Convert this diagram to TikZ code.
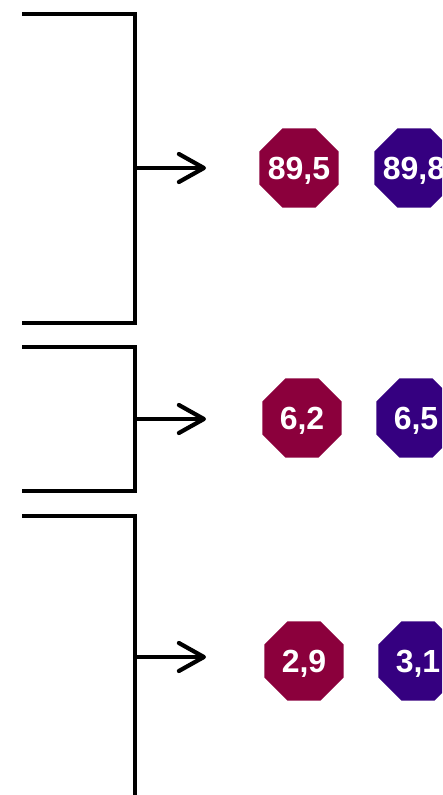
\documentclass[tikz,border=0pt]{standalone}
\usepackage{fontspec}
\setmainfont{Liberation Sans}
\usetikzlibrary{arrows.meta,shapes.geometric}
\definecolor{octred}{RGB}{139,0,60}
\definecolor{octpurple}{RGB}{53,0,128}
\tikzset{
  bracket/.style={line width=3.4pt, line join=miter},
  arrowline/.style={line width=4.2pt, -{Straight Barb[length=25pt,width=28pt,round]}},
  octa/.style={regular polygon, regular polygon sides=8, minimum size=86pt, inner sep=0pt},
  octtext/.style={inner sep=0pt, text depth=0pt, text height=22.5pt, text=white, font=\fontsize{32}{38}\selectfont\bfseries},
  redoct/.style={octa, fill=octred},
  purpoct/.style={octa, fill=octpurple}
}
\begin{document}
\begin{tikzpicture}[x=1pt,y=-1pt]
\useasboundingbox (0,0) rectangle (442,795);
\clip (0,0) rectangle (442,795);
% bracket 1
\coordinate (a1) at (22,14);
\coordinate (a2) at (135,14);
\coordinate (a3) at (135,323);
\coordinate (a4) at (22,323);
\coordinate (am) at (135,168);
\coordinate (ae) at (206,168);
\draw[bracket] (a1) -- (a2) -- (a3) -- (a4);
\draw[arrowline] (am) -- (ae);
% bracket 2
\coordinate (b1) at (22,347);
\coordinate (b2) at (135,347);
\coordinate (b3) at (135,491);
\coordinate (b4) at (22,491);
\coordinate (bm) at (135,419);
\coordinate (be) at (206,419);
\draw[bracket] (b1) -- (b2) -- (b3) -- (b4);
\draw[arrowline] (bm) -- (be);
% bracket 3
\coordinate (c1) at (22,516);
\coordinate (c2) at (135,516);
\coordinate (c3) at (135,800);
\coordinate (cm) at (135,657);
\coordinate (ce) at (206,657);
\draw[bracket] (c1) -- (c2) -- (c3);
\draw[arrowline] (cm) -- (ce);
% octagons
\node[redoct] (r1) at (299,168) {};
\node[octtext] (r1t) at (r1.center) {89,5};
\node[purpoct] (p1) at (414,168) {};
\node[octtext] (p1t) at (p1.center) {89,8};
\node[redoct] (r2) at (302,418) {};
\node[octtext] (r2t) at (r2.center) {6,2};
\node[purpoct] (p2) at (416,418) {};
\node[octtext] (p2t) at (p2.center) {6,5};
\node[redoct] (r3) at (304,661) {};
\node[octtext] (r3t) at (r3.center) {2,9};
\node[purpoct] (p3) at (418,661) {};
\node[octtext] (p3t) at (p3.center) {3,1};
\end{tikzpicture}
\end{document}
